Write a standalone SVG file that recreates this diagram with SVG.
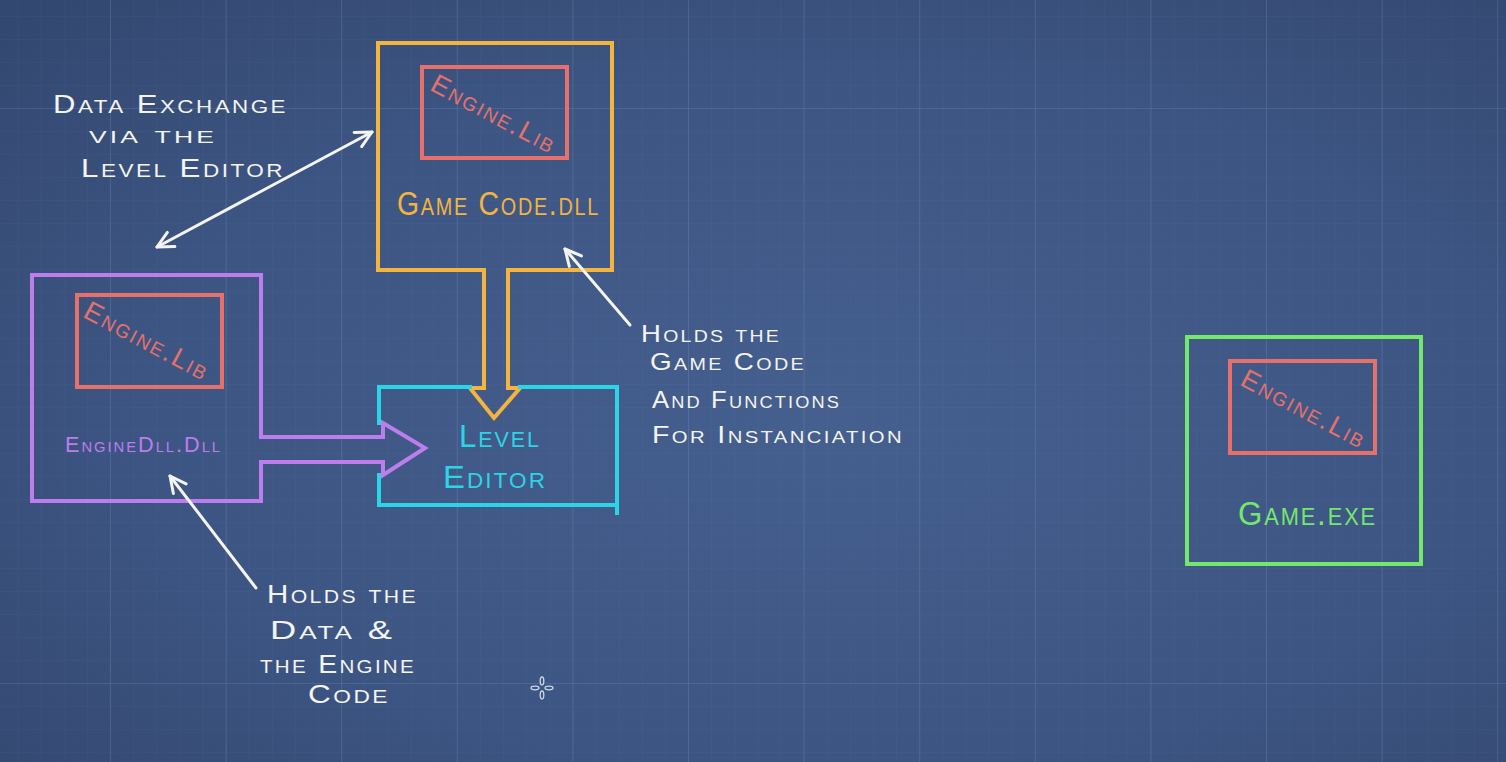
<svg xmlns="http://www.w3.org/2000/svg" width="1506" height="762" viewBox="0 0 1506 762">
  <defs>
    <radialGradient id="bg" cx="0.55" cy="0.55" r="0.75">
      <stop offset="0" stop-color="#455f8e"/>
      <stop offset="0.6" stop-color="#3d5583"/>
      <stop offset="1" stop-color="#334870"/>
    </radialGradient>
    <pattern id="minor" x="110" y="108" width="23.12" height="23" patternUnits="userSpaceOnUse">
      <path d="M0 0V23M0 0H23.12" fill="none" stroke="#8fb0e0" stroke-opacity="0.06" stroke-width="1"/>
    </pattern>
    <pattern id="major" x="110" y="108" width="115.6" height="115" patternUnits="userSpaceOnUse">
      <path d="M0 0V115M0 0H115.6" fill="none" stroke="#9cbbe8" stroke-opacity="0.18" stroke-width="1.6"/>
    </pattern>
    <marker id="open" viewBox="0 0 20 20" refX="18" refY="10" markerWidth="20" markerHeight="20" markerUnits="userSpaceOnUse" orient="auto-start-reverse">
      <path d="M2 2L18 10L2 18" fill="none" stroke="#f4f4f2" stroke-width="3" stroke-linecap="round" stroke-linejoin="round"/>
    </marker>
  </defs>
  <style>
    .box{fill:none;stroke-width:4;stroke-linecap:square;stroke-linejoin:miter}
    .orange{stroke:#f3b440}
    .red{fill:none;stroke:#e6716b;stroke-width:4}
    .purple{stroke:#bd7ded}
    .cyan{stroke:#2ad5e6}
    .green{stroke:#74e86c}
    .t{font-family:"Liberation Sans","DejaVu Sans",sans-serif;font-variant:small-caps;letter-spacing:2px}
    .w{fill:#f4f4f2}
    .lib{fill:#e6716b;font-size:27px}
    .ann{fill:none;stroke:#f4f4f2;stroke-width:3;stroke-linecap:round}
  </style>
  <rect width="1506" height="762" fill="url(#bg)"/>
  <rect width="1506" height="762" fill="url(#minor)"/>
  <rect width="1506" height="762" fill="url(#major)"/>

  <g id="gamecode-dll">
    <path class="box orange" d="M484 270H378V43H612V270H508V388H520L494 418L470 388H484Z" fill="none"/>
    <rect class="red" x="422" y="67" width="145" height="91"/>
    <text class="t lib" transform="translate(494 114) rotate(28)" text-anchor="middle" dy="9" textLength="138" lengthAdjust="spacingAndGlyphs">Engine.Lib</text>
    <text class="t" x="397" y="215" fill="#f3b440" font-size="33" textLength="203" lengthAdjust="spacingAndGlyphs">Game Code.dll</text>
  </g>

  <g id="enginedll-dll">
    <path class="box purple" d="M261 437V275H32V501H261V462H383V475L425 448L383 423V437Z" fill="none"/>
    <rect class="red" x="77" y="295" width="145" height="92"/>
    <text class="t lib" transform="translate(147 341) rotate(28)" text-anchor="middle" dy="9" textLength="138" lengthAdjust="spacingAndGlyphs">Engine.Lib</text>
    <text class="t" x="65" y="452" fill="#bd7ded" font-size="22" textLength="157" lengthAdjust="spacingAndGlyphs">EngineDll.Dll</text>
  </g>

  <g id="level-editor">
    <path class="box cyan" d="M470 387H379V423M379 475V505H617V387H520" fill="none"/>
    <path class="box cyan" d="M617 505V513" fill="none"/>
    <text class="t" x="459" y="447" fill="#2ad5e6" font-size="32" textLength="82" lengthAdjust="spacingAndGlyphs">Level</text>
    <text class="t" x="443" y="488" fill="#2ad5e6" font-size="32" textLength="104" lengthAdjust="spacingAndGlyphs">Editor</text>
  </g>

  <g id="game-exe">
    <rect class="box green" x="1187" y="337" width="234" height="227"/>
    <rect class="red" x="1230" y="361" width="145" height="92"/>
    <text class="t lib" transform="translate(1304 409) rotate(28)" text-anchor="middle" dy="9" textLength="138" lengthAdjust="spacingAndGlyphs">Engine.Lib</text>
    <text class="t" x="1238" y="525" fill="#74e86c" font-size="33" textLength="139" lengthAdjust="spacingAndGlyphs">Game.exe</text>
  </g>

  <g id="connectors">
    <line class="ann" x1="157" y1="247" x2="372" y2="132" marker-start="url(#open)" marker-end="url(#open)"/>
    <line class="ann" x1="630" y1="325" x2="565" y2="249" marker-end="url(#open)"/>
    <line class="ann" x1="256" y1="588" x2="170" y2="476" marker-end="url(#open)"/>
  </g>

  <g id="notes" class="t w">
    <text x="53" y="113" font-size="25" textLength="235" lengthAdjust="spacingAndGlyphs">Data Exchange</text>
    <text x="89" y="143" font-size="24" textLength="128" lengthAdjust="spacingAndGlyphs">via the</text>
    <text x="81" y="177" font-size="25" textLength="204" lengthAdjust="spacingAndGlyphs">Level Editor</text>

    <text x="641" y="342" font-size="24" textLength="140" lengthAdjust="spacingAndGlyphs">Holds the</text>
    <text x="650" y="370" font-size="24" textLength="156" lengthAdjust="spacingAndGlyphs">Game Code</text>
    <text x="652" y="408" font-size="24" textLength="189" lengthAdjust="spacingAndGlyphs">And Functions</text>
    <text x="652" y="443" font-size="24" textLength="252" lengthAdjust="spacingAndGlyphs">For Instanciation</text>

    <text x="267" y="603" font-size="25" textLength="151" lengthAdjust="spacingAndGlyphs">Holds the</text>
    <text x="270" y="639" font-size="25" textLength="125" lengthAdjust="spacingAndGlyphs">Data &amp;</text>
    <text x="260" y="673" font-size="25" textLength="156" lengthAdjust="spacingAndGlyphs">the Engine</text>
    <text x="308" y="703" font-size="25" textLength="82" lengthAdjust="spacingAndGlyphs">Code</text>
  </g>

  <g id="cursor" fill="none" stroke="#e8eef8" stroke-width="1.3" opacity="0.85">
    <ellipse cx="542" cy="681" rx="1.8" ry="4"/>
    <ellipse cx="542" cy="695" rx="1.8" ry="4"/>
    <ellipse cx="535" cy="688" rx="4" ry="1.8"/>
    <ellipse cx="549" cy="688" rx="4" ry="1.8"/>
  </g>
</svg>
